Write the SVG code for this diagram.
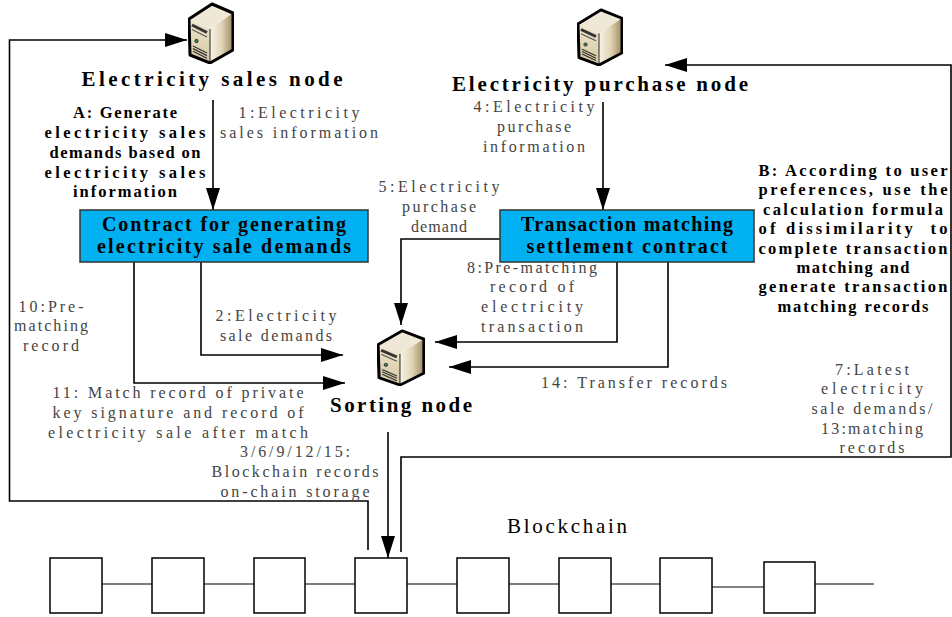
<svg xmlns="http://www.w3.org/2000/svg" width="952" height="617" viewBox="0 0 952 617">
<style>
text{font-family:"Liberation Serif","DejaVu Serif",serif;text-anchor:middle}
.title{font-weight:bold;font-size:21px;fill:#000}
.bt{font-weight:bold;font-size:20px;fill:#000}
.note{font-weight:bold;font-size:16.5px;fill:#000;white-space:pre}
.lbl{font-size:16px;fill:#444}
.chain{font-size:21px;fill:#000}
.box{fill:#00B0F0;stroke:#333;stroke-width:1.5}
.conn{fill:none;stroke:#000;stroke-width:1.6}
.blk{fill:#fff;stroke:#000;stroke-width:1.5}
.link{fill:none;stroke:#555;stroke-width:1.5}
</style>
<defs>
<marker id="arr" markerUnits="userSpaceOnUse" markerWidth="22" markerHeight="14" refX="22" refY="7" orient="auto">
<path d="M0,0 L22,7 L0,14 z" fill="#000"/>
</marker>
<linearGradient id="side" x1="0" y1="0" x2="1" y2="0">
<stop offset="0" stop-color="#F8F3E8"/>
<stop offset="0.5" stop-color="#E2D5B6"/>
<stop offset="1" stop-color="#9E8961"/>
</linearGradient>
<linearGradient id="front" x1="0" y1="0" x2="0" y2="1">
<stop offset="0" stop-color="#EFE6CF"/>
<stop offset="1" stop-color="#D6C7A0"/>
</linearGradient>
<symbol id="srv" viewBox="0 0 46 62" preserveAspectRatio="none">
<path d="M1,17 L24,2 L45,11 L22,27 z" fill="#F0E8D6"/>
<path d="M1,17 L22,27 L22,61 L2,53 z" fill="url(#front)"/>
<path d="M22,27 L45,11 L45,48 L22,61 z" fill="url(#side)"/>
<path d="M22,27 L22,61" stroke="#222" stroke-width="1"/>
<path d="M4,23 L19,30.5" stroke="#333" stroke-width="3"/>
<path d="M4,27.5 L19,35" stroke="#555" stroke-width="1.2"/>
<circle cx="8.5" cy="39" r="1.7" fill="#2E8B57" stroke="#222" stroke-width="0.8"/>
<path d="M5,44 L19,51 M5,46.6 L19,53.6 M5,49.2 L19,56.2" stroke="#333" stroke-width="1.2"/>
<path d="M1,17 L24,2 L45,11 L45,48 L22,61 L2,53 z" fill="none" stroke="#000" stroke-width="3" stroke-linejoin="round"/>
</symbol>
</defs>

<g id="connectors">
<path class="conn" d="M213,100 L213,210" marker-end="url(#arr)"/>
<path class="conn" d="M201,262 L201,355 L343,355" marker-end="url(#arr)"/>
<path class="conn" d="M134,262 L134,383 L345,383" marker-end="url(#arr)"/>
<path class="conn" d="M368,550 L368,501 L9.5,501 L9.5,40 L187,40" marker-end="url(#arr)"/>
<path class="conn" d="M603,102 L603,210" marker-end="url(#arr)"/>
<path class="conn" d="M500,239 L401,239 L401,325" marker-end="url(#arr)"/>
<path class="conn" d="M617,250 L617,342 L435,342" marker-end="url(#arr)"/>
<path class="conn" d="M668,262 L668,367 L449,367" marker-end="url(#arr)"/>
<path class="conn" d="M388,432 L388,558" marker-end="url(#arr)"/>
<path class="conn" d="M401,552 L401,457 L951,457 L951,65 L665,65" marker-end="url(#arr)"/>
</g>

<g id="sales-node">
<use href="#srv" x="188" y="2" width="46" height="62"/>
<text class="title" x="212" y="86" textLength="261" lengthAdjust="spacing">Electricity sales node</text>
</g>

<g id="purchase-node">
<use href="#srv" x="577" y="8" width="46" height="58"/>
<text class="title" x="600" y="91" textLength="296" lengthAdjust="spacing">Electricity purchase node</text>
</g>

<g id="sorting-node">
<use href="#srv" x="377" y="329" width="48" height="57"/>
<text class="title" x="401" y="412" textLength="142" lengthAdjust="spacing">Sorting node</text>
</g>

<g id="contract-sale">
<rect class="box" x="80" y="210" width="288" height="52"/>
<text class="bt" x="224" y="231" textLength="244" lengthAdjust="spacing">Contract for generating</text>
<text class="bt" x="224" y="253" textLength="254" lengthAdjust="spacing">electricity sale demands</text>
</g>

<g id="contract-match">
<rect class="box" x="500" y="210" width="254" height="52"/>
<text class="bt" x="627" y="231" textLength="212" lengthAdjust="spacing">Transaction matching</text>
<text class="bt" x="627" y="253" textLength="201" lengthAdjust="spacing">settlement contract</text>
</g>

<g id="note-a">
<text class="note" x="125" y="118" textLength="104" lengthAdjust="spacing">A: Generate</text>
<text class="note" x="125" y="138" textLength="161" lengthAdjust="spacing">electricity sales</text>
<text class="note" x="125" y="158" textLength="151" lengthAdjust="spacing">demands based on</text>
<text class="note" x="125" y="178" textLength="161" lengthAdjust="spacing">electricity sales</text>
<text class="note" x="125" y="197" textLength="104" lengthAdjust="spacing">information</text>
</g>

<g id="note-b">
<text class="note" x="853" y="176" textLength="189" lengthAdjust="spacing">B: According to user</text>
<text class="note" x="853" y="195" textLength="189" lengthAdjust="spacing">preferences, use the</text>
<text class="note" x="853" y="215" textLength="180" lengthAdjust="spacing">calculation formula</text>
<text class="note" x="853" y="234" textLength="189" lengthAdjust="spacing">of dissimilarity  to</text>
<text class="note" x="853" y="254" textLength="189" lengthAdjust="spacing">complete transaction</text>
<text class="note" x="853" y="273" textLength="113" lengthAdjust="spacing">matching and</text>
<text class="note" x="853" y="292" textLength="189" lengthAdjust="spacing">generate transaction</text>
<text class="note" x="853" y="312" textLength="151" lengthAdjust="spacing">matching records</text>
</g>

<g id="labels">
<text class="lbl" x="299" y="118" textLength="121" lengthAdjust="spacing">1:Electricity</text>
<text class="lbl" x="299" y="138" textLength="158" lengthAdjust="spacing">sales information</text>
<text class="lbl" x="534" y="112" textLength="121" lengthAdjust="spacing">4:Electricity</text>
<text class="lbl" x="534" y="132" textLength="74" lengthAdjust="spacing">purchase</text>
<text class="lbl" x="534" y="152" textLength="102" lengthAdjust="spacing">information</text>
<text class="lbl" x="439" y="192" textLength="121" lengthAdjust="spacing">5:Electricity</text>
<text class="lbl" x="439" y="212" textLength="74" lengthAdjust="spacing">purchase</text>
<text class="lbl" x="439" y="232" textLength="56" lengthAdjust="spacing">demand</text>
<text class="lbl" x="532" y="273" textLength="130" lengthAdjust="spacing">8:Pre-matching</text>
<text class="lbl" x="532" y="292" textLength="84" lengthAdjust="spacing">record of</text>
<text class="lbl" x="532" y="312" textLength="102" lengthAdjust="spacing">electricity</text>
<text class="lbl" x="532" y="332" textLength="102" lengthAdjust="spacing">transaction</text>
<text class="lbl" x="634" y="388" textLength="186" lengthAdjust="spacing">14: Transfer records</text>
<text class="lbl" x="872" y="375" textLength="74" lengthAdjust="spacing">7:Latest</text>
<text class="lbl" x="872" y="394" textLength="102" lengthAdjust="spacing">electricity</text>
<text class="lbl" x="872" y="414" textLength="121" lengthAdjust="spacing">sale demands/</text>
<text class="lbl" x="872" y="434" textLength="102" lengthAdjust="spacing">13:matching</text>
<text class="lbl" x="872" y="453" textLength="65" lengthAdjust="spacing">records</text>
<text class="lbl" x="51" y="312" textLength="65" lengthAdjust="spacing">10:Pre-</text>
<text class="lbl" x="51" y="331" textLength="74" lengthAdjust="spacing">matching</text>
<text class="lbl" x="51" y="351" textLength="56" lengthAdjust="spacing">record</text>
<text class="lbl" x="276" y="321" textLength="121" lengthAdjust="spacing">2:Electricity</text>
<text class="lbl" x="276" y="341" textLength="112" lengthAdjust="spacing">sale demands</text>
<text class="lbl" x="178" y="398" textLength="251" lengthAdjust="spacing">11: Match record of private</text>
<text class="lbl" x="178" y="418" textLength="251" lengthAdjust="spacing">key signature and record of</text>
<text class="lbl" x="178" y="438" textLength="260" lengthAdjust="spacing">electricity sale after match</text>
<text class="lbl" x="295" y="457" textLength="110" lengthAdjust="spacing">3/6/9/12/15:</text>
<text class="lbl" x="295" y="477" textLength="167" lengthAdjust="spacing">Blockchain records</text>
<text class="lbl" x="295" y="497" textLength="149" lengthAdjust="spacing">on-chain storage</text>
</g>

<g id="blockchain">
<text class="chain" x="567" y="533" textLength="120" lengthAdjust="spacing">Blockchain</text>
<path class="link" d="M102,584 L152,584 M204,584 L254,584 M305,584 L355,584 M407,584 L457,584 M509,584 L559,584 M611,584 L660,584 M712,587 L764,587 M815,584 L874,584"/>
<rect class="blk" x="50" y="558" width="52" height="55"/>
<rect class="blk" x="152" y="558" width="52" height="55"/>
<rect class="blk" x="254" y="558" width="51" height="55"/>
<rect class="blk" x="355" y="558" width="52" height="55"/>
<rect class="blk" x="457" y="558" width="52" height="55"/>
<rect class="blk" x="559" y="558" width="52" height="55"/>
<rect class="blk" x="660" y="558" width="52" height="55"/>
<rect class="blk" x="764" y="562" width="51" height="51"/>
</g>
</svg>
